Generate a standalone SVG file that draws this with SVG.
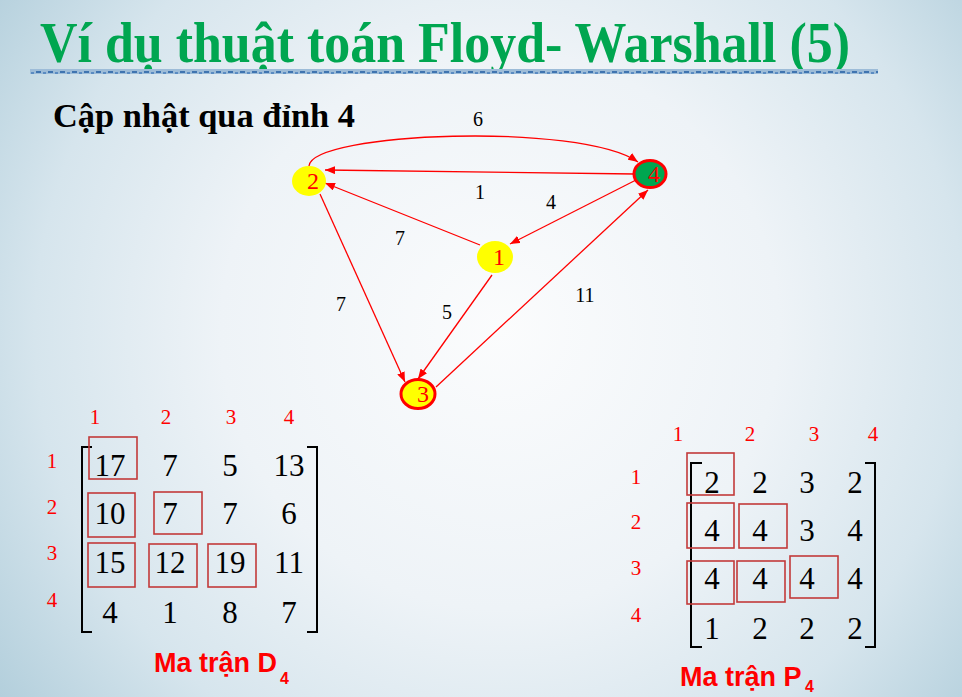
<svg xmlns="http://www.w3.org/2000/svg" width="962" height="697" viewBox="0 0 962 697">
<defs>
<radialGradient id="bg" cx="500" cy="330" r="620" gradientUnits="userSpaceOnUse">
<stop offset="0" stop-color="#fbfcfd"/>
<stop offset="0.45" stop-color="#eef3f7"/>
<stop offset="0.75" stop-color="#d6e5ed"/>
<stop offset="1" stop-color="#b3cfdc"/>
</radialGradient>
<marker id="ah" viewBox="0 0 10 8" refX="10" refY="4" markerWidth="10" markerHeight="8" markerUnits="userSpaceOnUse" orient="auto">
<path d="M0,0 L10,4 L0,8 Z" fill="#ff0000"/>
</marker>
<pattern id="deco" width="12" height="5" patternUnits="userSpaceOnUse">
<rect width="12" height="5" fill="#9dbcd8"/>
<rect x="0" y="1" width="5" height="2" fill="#3f74b0"/>
<rect x="7" y="2" width="3" height="2" fill="#5b8cc2"/>
</pattern>
</defs>
<style>
.title{font-family:"Liberation Serif",serif;font-weight:bold;fill:#00a650;font-size:58px}
.sub{font-family:"Liberation Serif",serif;font-weight:bold;fill:#000;font-size:34px}
.node{stroke:none}
.nlab{font-family:"Liberation Serif",serif;fill:#ff0000;font-size:24px;text-anchor:middle}
.elab{font-family:"Liberation Serif",serif;fill:#000;font-size:20px;text-anchor:middle}
.edge{fill:none;stroke:#ff0000;stroke-width:1.3;marker-end:url(#ah)}
.idx{font-family:"Liberation Serif",serif;fill:#ff0000;font-size:21px;text-anchor:middle}
.val{font-family:"Liberation Serif",serif;fill:#000;font-size:31px;text-anchor:middle}
.box{fill:none;stroke:#c23a3a;stroke-width:1.6}
.brk{fill:none;stroke:#000;stroke-width:2}
.cap{font-family:"Liberation Sans",Arial,sans-serif;font-weight:bold;fill:#ff0000;font-size:27px}
.capsub{font-family:"Liberation Sans",Arial,sans-serif;font-weight:bold;fill:#ff0000;font-size:16px}
</style>
<rect width="962" height="697" fill="url(#bg)"/>
<text class="title" x="40" y="62" textLength="810" lengthAdjust="spacingAndGlyphs">Ví dụ thuật toán Floyd- Warshall (5)</text>
<rect x="30" y="69" width="848" height="5" fill="url(#deco)"/>
<text class="sub" x="53" y="127" textLength="302" lengthAdjust="spacingAndGlyphs">Cập nhật qua đỉnh 4</text>

<g id="connectors">
<path class="edge" d="M309,166 C312,132 580,122 638,162"/>
<path class="edge" d="M635,174 L325,170"/>
<path class="edge" d="M480,245 L325,183"/>
<path class="edge" d="M636,180 L510,244"/>
<path class="edge" d="M492,275 L418,379"/>
<path class="edge" d="M320,194 L405,382"/>
<path class="edge" d="M436,387 L648,190"/>
<text class="elab" x="478" y="126">6</text>
<text class="elab" x="480" y="199">1</text>
<text class="elab" x="551" y="209">4</text>
<text class="elab" x="400" y="245">7</text>
<text class="elab" x="341" y="311">7</text>
<text class="elab" x="447" y="319">5</text>
<text class="elab" x="585" y="302">11</text>
</g>

<g id="node2">
<ellipse class="node" cx="309" cy="181" rx="17" ry="15" fill="#ffff00"/>
<text class="nlab" x="313" y="189">2</text>
</g>
<g id="node4">
<ellipse cx="650" cy="174" rx="16" ry="13.5" fill="#00a650" stroke="#ff0000" stroke-width="3"/>
<text class="nlab" x="654" y="182">4</text>
</g>
<g id="node1">
<ellipse class="node" cx="495" cy="257" rx="18" ry="16" fill="#ffff00"/>
<text class="nlab" x="499" y="265">1</text>
</g>
<g id="node3">
<ellipse cx="418" cy="394" rx="17" ry="14.5" fill="#ffff00" stroke="#ff0000" stroke-width="3"/>
<text class="nlab" x="423" y="402">3</text>
</g>

<g id="matrixD">
<text class="idx" x="95" y="424">1</text>
<text class="idx" x="166" y="424">2</text>
<text class="idx" x="231" y="424">3</text>
<text class="idx" x="289" y="424">4</text>
<text class="idx" x="52" y="468">1</text>
<text class="idx" x="52" y="514">2</text>
<text class="idx" x="52" y="560">3</text>
<text class="idx" x="52" y="607">4</text>
<path class="brk" d="M92,447 H82 V632 H92"/>
<path class="brk" d="M307,447 H317 V632 H307"/>
<rect class="box" x="89" y="437" width="48" height="42"/>
<rect class="box" x="88" y="493" width="47" height="44"/>
<rect class="box" x="154" y="492" width="48" height="42"/>
<rect class="box" x="88" y="543" width="47" height="44"/>
<rect class="box" x="149" y="544" width="48" height="43"/>
<rect class="box" x="208" y="544" width="48" height="43"/>
<text class="val" x="110" y="476">17</text>
<text class="val" x="170" y="476">7</text>
<text class="val" x="230" y="476">5</text>
<text class="val" x="289" y="476">13</text>
<text class="val" x="110" y="524">10</text>
<text class="val" x="170" y="524">7</text>
<text class="val" x="230" y="524">7</text>
<text class="val" x="289" y="524">6</text>
<text class="val" x="110" y="573">15</text>
<text class="val" x="170" y="573">12</text>
<text class="val" x="230" y="573">19</text>
<text class="val" x="289" y="573">11</text>
<text class="val" x="110" y="623">4</text>
<text class="val" x="170" y="623">1</text>
<text class="val" x="230" y="623">8</text>
<text class="val" x="289" y="623">7</text>
<text class="cap" x="154" y="672">Ma trận D</text>
<text class="capsub" x="280" y="684">4</text>
</g>

<g id="matrixP">
<text class="idx" x="678" y="441">1</text>
<text class="idx" x="750" y="441">2</text>
<text class="idx" x="814" y="441">3</text>
<text class="idx" x="873" y="441">4</text>
<text class="idx" x="636" y="484">1</text>
<text class="idx" x="636" y="529">2</text>
<text class="idx" x="636" y="575">3</text>
<text class="idx" x="636" y="622">4</text>
<path class="brk" d="M702,463 H691 V647 H702"/>
<path class="brk" d="M865,463 H875 V647 H865"/>
<rect class="box" x="687" y="453" width="47" height="42"/>
<rect class="box" x="687" y="503" width="47" height="45"/>
<rect class="box" x="739" y="504" width="48" height="44"/>
<rect class="box" x="687" y="561" width="47" height="43"/>
<rect class="box" x="737" y="561" width="48" height="41"/>
<rect class="box" x="790" y="556" width="48" height="42"/>
<text class="val" x="712" y="493">2</text>
<text class="val" x="760" y="493">2</text>
<text class="val" x="807" y="493">3</text>
<text class="val" x="855" y="493">2</text>
<text class="val" x="712" y="541">4</text>
<text class="val" x="760" y="541">4</text>
<text class="val" x="807" y="541">3</text>
<text class="val" x="855" y="541">4</text>
<text class="val" x="712" y="589">4</text>
<text class="val" x="760" y="589">4</text>
<text class="val" x="807" y="589">4</text>
<text class="val" x="855" y="589">4</text>
<text class="val" x="712" y="639">1</text>
<text class="val" x="760" y="639">2</text>
<text class="val" x="807" y="639">2</text>
<text class="val" x="855" y="639">2</text>
<text class="cap" x="680" y="686">Ma trận P</text>
<text class="capsub" x="805" y="692">4</text>
</g>
</svg>
